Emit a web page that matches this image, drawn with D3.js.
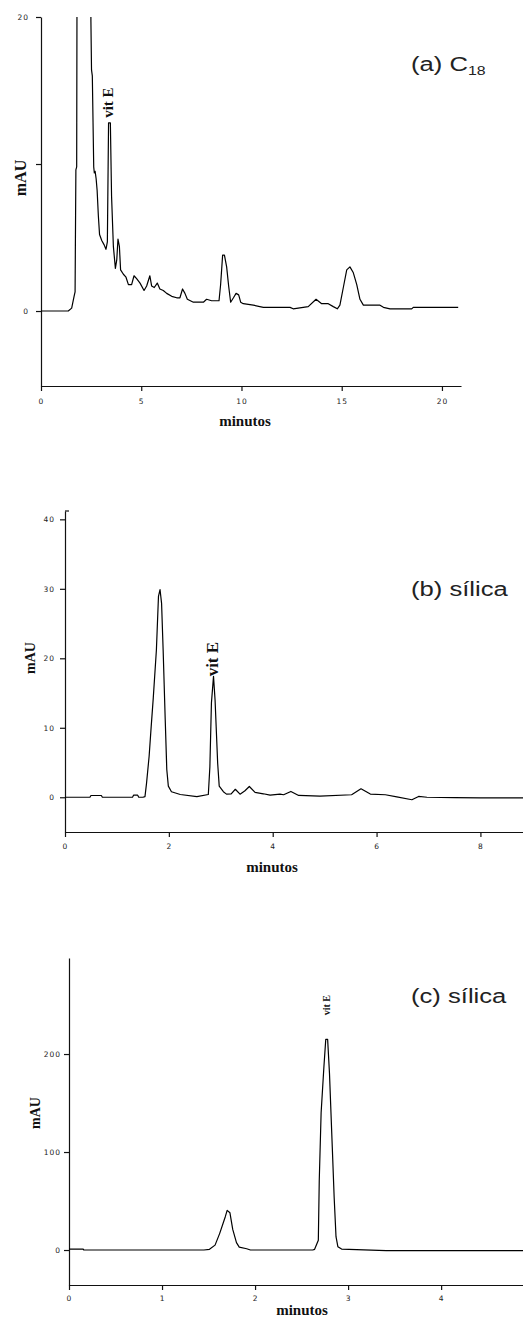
<!DOCTYPE html>
<html>
<head>
<meta charset="utf-8">
<script src="https://cdn.jsdelivr.net/npm/d3@7"></script>
<style>
  body { margin: 0; background: #fff; }
  svg { display: block; }
  .tick text { font-family: 'DejaVu Sans', sans-serif; font-size: 7.5px; letter-spacing: 1px; fill: #222; }
  .domain, .tick line { stroke: #111; stroke-width: 1.2; }
  .trace { fill: none; stroke: #000; stroke-width: 1.2; stroke-linejoin: round; }
  .lab { font-family: 'Liberation Serif', 'Times New Roman', serif; font-weight: bold; fill: #111; }
  .title { font-family: 'Liberation Sans', Arial, sans-serif; fill: #222; }
</style>
</head>
<body>
<svg id="chart"></svg>
<script>
const width = 523;
const height = 1319;

// (a) C18 column
const timeA = [0, 1.36, 1.53, 1.65, 1.70, 1.74, 1.78, 1.82, 2.40, 2.49, 2.52, 2.56, 2.63, 2.66, 2.70, 2.75, 2.80, 2.86, 2.92, 3.03,
  3.15, 3.24, 3.31, 3.37, 3.46, 3.52, 3.61, 3.71, 3.78, 3.84, 3.91, 3.97, 4.11, 4.24, 4.36, 4.52, 4.64, 4.77, 4.94, 5.14,
  5.27, 5.43, 5.52, 5.65, 5.80, 5.93, 6.10, 6.27, 6.52, 6.77, 6.93, 7.06, 7.18, 7.30, 7.60, 8.10, 8.26, 8.51, 8.88, 8.96,
  9.06, 9.15, 9.26, 9.36, 9.46, 9.60, 9.73, 9.86, 9.96, 10.09, 10.59, 11.09, 12.42, 12.58, 13.33, 13.72, 14.00, 14.33, 14.58, 14.78,
  14.91, 15.08, 15.25, 15.41, 15.58, 15.75, 15.91, 16.08, 16.91, 17.08, 17.41, 18.49, 18.57, 20.81];
const mauA = [0, 0, 0.2, 1.0, 1.3, 9.6, 9.8, 40, 40, 19.7, 16.4, 16.0, 9.8, 9.4, 9.5, 9.0, 8.2, 6.5, 5.2, 4.8,
  4.5, 4.2, 4.7, 12.8, 12.8, 7.8, 4.4, 2.9, 3.5, 4.9, 4.4, 2.8, 2.5, 2.3, 1.8, 1.8, 2.4, 2.2, 1.9, 1.4,
  1.7, 2.4, 1.7, 1.6, 1.9, 1.5, 1.4, 1.2, 1.0, 0.9, 0.9, 1.5, 1.2, 0.8, 0.6, 0.6, 0.8, 0.7, 0.7, 1.8,
  3.8, 3.8, 3.0, 1.7, 0.6, 0.9, 1.2, 1.1, 0.6, 0.5, 0.4, 0.25, 0.25, 0.15, 0.3, 0.8, 0.5, 0.5, 0.3, 0.15,
  0.4, 1.6, 2.8, 3.0, 2.6, 1.8, 0.8, 0.4, 0.4, 0.25, 0.15, 0.15, 0.25, 0.25];
const xTicksA = [0, 5, 10, 15, 20];
const yTicksA = [0, 10, 20];
const yLabelsA = ['0', '', '20'];   // 10 sits under the mAU title

// (b) silica column
const timeB = [0, 0.48, 0.50, 0.70, 0.72, 1.30, 1.32, 1.40, 1.42, 1.50, 1.54, 1.57, 1.62, 1.66, 1.70, 1.76, 1.80, 1.83, 1.86,
  1.89, 1.93, 1.96, 1.99, 2.05, 2.22, 2.54, 2.76, 2.79, 2.82, 2.86, 2.89, 2.94, 2.97, 3.05, 3.11, 3.20, 3.28, 3.37, 3.46,
  3.55, 3.66, 3.82, 3.95, 4.14, 4.21, 4.35, 4.50, 4.91, 5.52, 5.70, 5.88, 6.17, 6.39, 6.68, 6.81, 6.97, 7.50, 8.00, 8.82];
const mauB = [0, 0, 0.25, 0.25, 0, 0, 0.3, 0.3, 0, 0, 0.1, 2.0, 5.9, 10.2, 14.3, 21.2, 28.9, 29.9, 27.9,
  21.2, 11.2, 4.0, 1.6, 0.8, 0.4, 0.1, 0.4, 4.4, 13.6, 17.4, 14.0, 4.9, 1.6, 0.8, 0.45, 0.5, 1.15, 0.45, 0.9,
  1.55, 0.7, 0.5, 0.3, 0.45, 0.36, 0.84, 0.26, 0.15, 0.36, 1.22, 0.46, 0.36, 0.05, -0.36, 0.12, 0, -0.05, -0.1, -0.1];
const xTicksB = [0, 2, 4, 6, 8];
const yTicksB = [0, 10, 20, 30, 40];
const yLabelsB = ['0', '10', '20', '30', '40'];

// (c) silica column
const timeC = [0, 0.15, 0.16, 1.45, 1.51, 1.57, 1.62, 1.68, 1.70, 1.73, 1.76, 1.80, 1.83, 1.91, 1.95, 2.62, 2.64, 2.68, 2.69, 2.71,
  2.74, 2.76, 2.78, 2.80, 2.83, 2.85, 2.87, 2.89, 2.93, 3.41, 4.88];
const mauC = [1, 1, 0, 0, 0.7, 5, 17, 34, 40.5, 38, 21, 7.5, 3, 1.3, 0, 0, 0.7, 10, 71, 140,
  187, 215, 215, 180, 105, 54, 13.6, 3.4, 1.0, -0.7, -0.7];
const xTicksC = [0, 1, 2, 3, 4];
const yTicksC = [0, 100, 200];
const yLabelsC = ['0', '100', '200'];

const svg = d3.select('#chart').attr('width', width).attr('height', height);
svg.append('rect').attr('width', width).attr('height', height).attr('fill', '#fff');

function drawPanel(p) {
  const { key, time, mau, x, y, xTicks, yTicks, yLabels } = p;
  const g = svg.append('g').attr('class', `panel-${key}`);
  const x0 = x(0);
  const yBottom = y.range()[0];
  const yTop = y.range()[1];

  g.append('clipPath').attr('id', `clip-${key}`)
    .append('rect')
    .attr('x', x0).attr('y', yTop)
    .attr('width', x.range()[1] - x0).attr('height', yBottom - yTop);

  g.append('g')
    .attr('transform', `translate(0,${yBottom})`)
    .call(d3.axisBottom(x).tickValues(xTicks).tickFormat(d3.format('d'))
      .tickSize(5).tickSizeOuter(0).tickPadding(p.xPad));

  g.append('g')
    .attr('transform', `translate(${x0},0)`)
    .call(d3.axisLeft(y).tickValues(yTicks).tickFormat((d, i) => yLabels[i])
      .tickSize(5).tickSizeOuter(0).tickPadding(p.yPad));

  if (p.topTick) {
    g.append('line')
      .attr('x1', x0).attr('x2', x0 + 4)
      .attr('y1', yTop).attr('y2', yTop)
      .attr('stroke', '#111').attr('stroke-width', 1.2);
  }

  const line = d3.line()
    .x((d, i) => x(time[i]))
    .y(d => y(d));

  g.append('path')
    .datum(mau)
    .attr('class', 'trace')
    .attr('clip-path', `url(#clip-${key})`)
    .attr('d', line);

  // label the vitamin E peak just above its apex
  const iMax = p.vitIndex;
  g.append('text')
    .attr('class', 'lab')
    .attr('font-size', p.vitSize)
    .attr('transform', `translate(${x(time[iMax]) + p.vitDx},${y(mau[iMax]) - p.vitGap}) rotate(-90)`)
    .text('vit E');

  g.append('text')
    .attr('class', 'lab')
    .attr('font-size', p.mauSize)
    .attr('text-anchor', 'middle')
    .attr('transform', `translate(${p.mauX},${p.mauY}) rotate(-90)`)
    .text('mAU');

  g.append('text')
    .attr('class', 'lab')
    .attr('font-size', 15)
    .attr('text-anchor', 'middle')
    .attr('x', p.minX)
    .attr('y', p.minY)
    .text('minutos');

  const t = g.append('text')
    .attr('class', 'title')
    .attr('font-size', 21)
    .attr('transform', `translate(411,${p.titleY}) scale(1.22,1)`);
  t.append('tspan').text(p.title);
  if (p.sub) {
    t.append('tspan').attr('font-size', 13).attr('dy', 4).text(p.sub);
  }
}

drawPanel({
  key: 'a', time: timeA, mau: mauA,
  x: d3.scaleLinear([0, 20.95], [41, 461]),
  y: d3.scaleLinear([-5.1, 20], [386, 17]),
  xTicks: xTicksA, yTicks: yTicksA, yLabels: yLabelsA, xPad: 8, yPad: 7,
  vitIndex: 23, vitSize: 15, vitDx: 4, vitGap: 5,
  mauX: 26, mauY: 178, mauSize: 16,
  minX: 245, minY: 426,
  title: '(a) C', sub: '18', titleY: 71
});

drawPanel({
  key: 'b', time: timeB, mau: mauB,
  x: d3.scaleLinear([0, 8.82], [65, 523]),
  y: d3.scaleLinear([-5, 41.2], [832, 511]),
  xTicks: xTicksB, yTicks: yTicksB, yLabels: yLabelsB, xPad: 7, yPad: 5, topTick: true,
  vitIndex: 29, vitSize: 17, vitDx: 4, vitGap: 0,
  mauX: 35, mauY: 658, mauSize: 14,
  minX: 272, minY: 872,
  title: '(b) sílica', titleY: 596
});

drawPanel({
  key: 'c', time: timeC, mau: mauC,
  x: d3.scaleLinear([0, 4.88], [69, 523]),
  y: d3.scaleLinear([-35.7, 298], [1285, 958]),
  xTicks: xTicksC, yTicks: yTicksC, yLabels: yLabelsC, xPad: 6, yPad: 3,
  vitIndex: 21, vitSize: 10, vitDx: 4, vitGap: 24,
  mauX: 40, mauY: 1113, mauSize: 14,
  minX: 302, minY: 1315,
  title: '(c) sílica', titleY: 1003
});
</script>
</body>
</html>
